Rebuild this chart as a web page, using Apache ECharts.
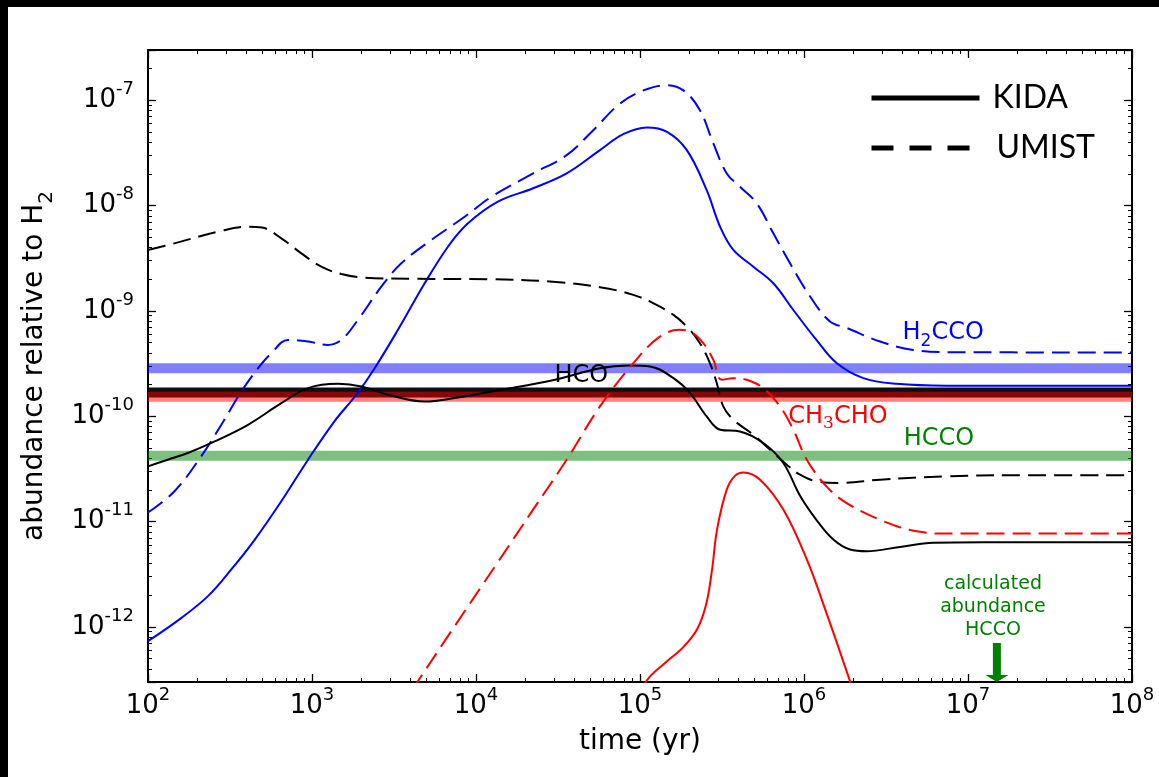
<!DOCTYPE html>
<html><head><meta charset="utf-8">
<script src="https://cdn.jsdelivr.net/npm/echarts@6/dist/echarts.min.js"></script>
<style>html,body{margin:0;padding:0;background:#fff}#c{width:1159px;height:777px}</style>
</head><body><div id="c"></div>
<script>
// ---------- data (time in yr, abundance relative to H2) ----------
const kidaHCO = [[100,3.34e-11],[132,3.87e-11],[175,4.48e-11],[255,5.77e-11],[407,8.30e-11],[650,1.33e-10],[946,1.85e-10],[1443,2.03e-10],[2000,1.92e-10],[2906,1.60e-10],[4865,1.38e-10],[7413,1.49e-10],[1.36e4,1.76e-10],[3.03e4,2.22e-10],[5.70e4,2.86e-10],[8.69e4,3.03e-10],[1.15e5,2.97e-10],[1.60e5,2.30e-10],[2.02e5,1.66e-10],[2.55e5,9.95e-11],[3.08e5,7.45e-11],[4.07e5,7.18e-11],[5.65e5,5.57e-11],[7.48e5,3.60e-11],[9.46e5,1.76e-11],[1.19e6,1.04e-11],[1.51e6,6.75e-12],[1.91e6,5.43e-12],[2.41e6,5.23e-12],[3.85e6,5.75e-12],[6.14e6,6.28e-12],[1.24e7,6.37e-12],[1e8,6.37e-12]];
const umistHCO = [[100,3.79e-9],[145,4.38e-9],[267,5.65e-9],[407,6.30e-9],[495,6.19e-9],[650,4.89e-9],[861,3.52e-9],[1140,2.63e-9],[1510,2.24e-9],[2095,2.07e-9],[4230,2.02e-9],[1.24e4,2.00e-9],[2.82e4,1.90e-9],[5.70e4,1.68e-9],[9.10e4,1.42e-9],[1.21e5,1.18e-9],[1.60e5,9.16e-10],[1.97e5,6.86e-10],[2.32e5,4.94e-10],[2.67e5,3.19e-10],[2.94e5,2.06e-10],[3.22e5,1.24e-10],[3.71e5,9.27e-11],[4.91e5,6.68e-11],[6.21e5,4.81e-11],[7.85e5,3.47e-11],[9.46e5,2.79e-11],[1.19e6,2.41e-11],[1.66e6,2.33e-11],[2.91e6,2.50e-11],[7.41e6,2.69e-11],[1.88e7,2.75e-11],[1e8,2.75e-11]];
const kidaH2CCO = [[100,7.33e-13],[160,1.22e-12],[232,1.96e-12],[322,3.51e-12],[448,6.75e-12],[650,1.56e-11],[946,3.87e-11],[1374,9.0e-11],[1862,1.60e-10],[2411,2.86e-10],[3342,6.61e-10],[4865,1.83e-9],[6745,4.07e-9],[8933,6.78e-9],[1.36e4,1.09e-8],[2.23e4,1.46e-8],[3.57e4,2.02e-8],[5.70e4,3.36e-8],[7.91e4,4.76e-8],[1.10e5,5.51e-8],[1.46e5,5.01e-8],[1.93e5,3.36e-8],[2.55e5,1.40e-8],[3.08e5,6.29e-9],[3.71e5,3.79e-9],[4.91e5,2.63e-9],[6.50e5,1.83e-9],[8.61e5,1.02e-9],[1.19e6,5.31e-10],[1.58e6,3.2e-10],[2.30e6,2.30e-10],[3.67e6,2.03e-10],[7.41e6,1.95e-10],[1e8,1.95e-10]];
const umistH2CCO = [[100,1.22e-11],[145,1.94e-11],[211,4.16e-11],[280,8.30e-11],[371,1.72e-10],[469,2.86e-10],[565,3.97e-10],[714,5.31e-10],[946,5.12e-10],[1253,4.76e-10],[1510,5.31e-10],[1906,8.22e-10],[2646,1.70e-9],[3505,2.83e-9],[5338,4.71e-9],[8526,7.83e-9],[1.24e4,1.21e-8],[2.23e4,2.02e-8],[3.57e4,3.01e-8],[5.19e4,5.20e-8],[7.55e4,9.30e-8],[1.05e5,1.24e-7],[1.46e5,1.39e-7],[1.84e5,1.24e-7],[2.32e5,8.04e-8],[2.80e5,3.89e-8],[3.38e5,2.02e-8],[4.07e5,1.51e-8],[5.15e5,1.05e-8],[6.50e5,5.46e-9],[8.22e5,2.83e-9],[1.09e6,1.37e-9],[1.44e6,7.93e-10],[1.82e6,6.9e-10],[2.91e6,5.12e-10],[4.64e6,4.26e-10],[7.41e6,4.06e-10],[1e8,4.03e-10]];
const kidaCH3CHO = [[1.0e5,2.06e-13],[1.10e5,3.1e-13],[1.41e5,4.5e-13],[1.83e5,6.4e-13],[2.23e5,9.5e-13],[2.53e5,1.63e-12],[2.75e5,3.5e-12],[2.95e5,8.4e-12],[3.38e5,2.01e-11],[3.80e5,2.73e-11],[4.27e5,2.93e-11],[5.40e5,2.50e-11],[7.48e5,1.30e-11],[1.04e6,4.37e-12],[1.37e6,1.36e-12],[1.91e6,3.04e-13],[2.07e6,2.06e-13]];
const umistCH3CHO = [[4074,2.52e-13],[4865,3.81e-13],[6745,8.18e-13],[1.36e4,4.13e-12],[2.23e4,1.30e-11],[3.57e4,3.87e-11],[5.70e4,1.24e-10],[9.10e4,3.19e-10],[1.32e5,5.70e-10],[1.75e5,6.61e-10],[2.02e5,6.37e-10],[2.43e5,4.94e-10],[2.80e5,3.43e-10],[3.15e5,2.22e-10],[3.71e5,2.30e-10],[4.47e5,2.22e-10],[5.65e5,1.85e-10],[7.14e5,1.24e-10],[8.61e5,7.45e-11],[1.04e6,3.87e-11],[1.37e6,2.16e-11],[1.82e6,1.50e-11],[3.04e6,1.01e-11],[4.86e6,8.09e-12],[7.76e6,7.69e-12],[1e8,7.69e-12]];
// observed abundances (horizontal bands)
const obsH2CCO = 2.86e-10;
const obsHCO = 1.68e-10;
const obsCH3CHO = 1.53e-10;
const obsHCCO = 4.22e-11;
const timeRange = [1e2, 1e8];
const abundRange = [3e-13, 3e-7];
const legendNames = ['KIDA', 'UMIST'];

// ---------- styling ----------
const FONT = 'DejaVu Sans';
const DASH = [18, 8];
function powLabel(v) {
  const e = Math.log10(v), r = Math.round(e);
  if (Math.abs(e - r) > 1e-6) return '';
  return '{b|10}{s|' + r + '}';
}
const tickRich = {
  b: {fontSize: 26, fontFamily: FONT, color: '#000'},
  s: {fontSize: 18, fontFamily: FONT, color: '#000', padding: [0, 0, 22, 0]}
};
function axisBase(extra) {
  return Object.assign({
    type: 'log', logBase: 10,
    axisLine: {show: true, onZero: false, lineStyle: {color: '#000', width: 2}},
    axisTick: {show: true, inside: true, length: 8, lineStyle: {color: '#000', width: 1.3}},
    minorTick: {show: true, splitNumber: 9, length: 4, lineStyle: {color: '#000', width: 1}},
    splitLine: {show: false}, minorSplitLine: {show: false}
  }, extra);
}
function band(v, color, opacity) {
  return {type: 'line', data: [[timeRange[0], v], [timeRange[1], v]], showSymbol: false, symbol: 'none',
    silent: true, lineStyle: {color: color, width: 10, opacity: opacity}, z: 1};
}
function curve(name, data, color, dashed) {
  return {type: 'line', name: name, data: data, showSymbol: false, symbol: 'none', smooth: 0.38,
    silent: true, lineStyle: {color: color, width: 2, type: dashed ? DASH : 'solid'}, z: 3};
}

const chart = echarts.init(document.getElementById('c'), null, {renderer: 'canvas'});
chart.setOption({
  animation: false,
  backgroundColor: '#ffffff',
  grid: {left: 148, top: 50, right: 27, bottom: 95},
  legend: {
    show: true, padding: 0,
    left: 869, top: 78, orient: 'vertical', itemWidth: 108, itemHeight: 14, itemGap: 10,
    selectedMode: false,
    textStyle: {fontFamily: 'Lato', fontSize: 32, color: '#000', lineHeight: 40, padding: [0, 0, 0, 8]},
    data: [
      {name: legendNames[0], itemStyle: {opacity: 0}, lineStyle: {color: '#000', width: 5, type: 'solid'}},
      {name: legendNames[1], itemStyle: {opacity: 0}, lineStyle: {color: '#000', width: 5, type: [22, 16]},
        textStyle: {padding: [0, 0, 0, 12]}}
    ]
  },
  xAxis: [
    axisBase({position: 'bottom', min: timeRange[0], max: timeRange[1],
      axisLabel: {formatter: powLabel, rich: tickRich, margin: 4},
      name: 'time (yr)', nameLocation: 'middle', nameGap: 46,
      nameTextStyle: {fontFamily: FONT, fontSize: 28, color: '#000'}}),
    axisBase({position: 'top', min: timeRange[0], max: timeRange[1], axisLabel: {show: false}})
  ],
  yAxis: [
    axisBase({position: 'left', min: abundRange[0], max: abundRange[1],
      axisLabel: {formatter: powLabel, rich: tickRich, margin: 14},
      name: 'abundance relative to H{sub|2}', nameLocation: 'middle', nameGap: 91,
      nameTextStyle: {fontFamily: FONT, fontSize: 28, color: '#000',
        rich: {sub: {fontFamily: FONT, fontSize: 20, color: '#000', padding: [24, 0, 0, 0]}}}}),
    axisBase({position: 'right', min: abundRange[0], max: abundRange[1], axisLabel: {show: false}})
  ],
  series: [
    band(obsH2CCO, '#0000ff', 0.5),
    band(obsHCO, '#000000', 0.94),
    band(obsCH3CHO, '#ff0000', 0.5),
    band(obsHCCO, '#008000', 0.5),
    curve('H2CCO KIDA', kidaH2CCO, '#0000ff', false),
    curve('H2CCO UMIST', umistH2CCO, '#0000ff', true),
    curve('HCO KIDA', kidaHCO, '#000000', false),
    curve('HCO UMIST', umistHCO, '#000000', true),
    curve('CH3CHO KIDA', kidaCH3CHO, '#ff0000', false),
    curve('CH3CHO UMIST', umistCH3CHO, '#ff0000', true),
    {type: 'line', name: legendNames[0], data: [], showSymbol: false, symbol: 'none', itemStyle: {color: '#000'},
      lineStyle: {color: '#000', width: 5, type: 'solid'}},
    {type: 'line', name: legendNames[1], data: [], showSymbol: false, symbol: 'none', itemStyle: {color: '#000'},
      lineStyle: {color: '#000', width: 5, type: [22, 16]}}
  ]
});

// ---------- annotations (placed in data coordinates) ----------
const annotations = [
  {text: '{m|H}{d|2}{m|CCO}', at: [7.06e6, 6.15e-10], color: '#0000ff'},
  {text: '{m|HCO}', at: [4.39e4, 2.42e-10], color: '#000000'},
  {text: '{m|CH}{d3|3}{m|CHO}', at: [1.61e6, 9.9e-11], color: '#ff0000'},
  {text: '{m|HCCO}', at: [6.65e6, 6.18e-11], color: '#008000'}
];
const arrowAt = [1.5e7, 3e-13];
const noteAt = [1.42e7, 1.56e-12];
const finder = {xAxisIndex: 0, yAxisIndex: 0};
const graphics = [
  {type: 'rect', shape: {x: 0, y: 0, width: 1159, height: 7}, style: {fill: '#000'}, silent: true},
  {type: 'rect', shape: {x: 0, y: 0, width: 8, height: 777}, style: {fill: '#000'}, silent: true}
];
annotations.forEach(function (a) {
  const p = chart.convertToPixel(finder, a.at);
  graphics.push({type: 'text', x: p[0], y: p[1], silent: true, z: 10,
    style: {text: a.text, align: 'center', verticalAlign: 'middle', textAlign: 'center', textVerticalAlign: 'middle',
      fill: a.color, fontFamily: FONT, fontSize: 24,
      rich: {
        m: {fontFamily: FONT, fontSize: 24, fill: a.color},
        d: {fontFamily: FONT, fontSize: 17, fill: a.color, padding: [16, 0, 0, 0]},
        d3: {fontFamily: 'DejaVu Serif', fontSize: 17, fill: a.color, padding: [14, 0, 0, 0]}
      }}});
});
(function () {
  const p = chart.convertToPixel(finder, noteAt);
  graphics.push({type: 'text', x: p[0], y: p[1], silent: true, z: 10,
    style: {text: 'calculated\nabundance\nHCCO', align: 'center', verticalAlign: 'middle', textAlign: 'center', textVerticalAlign: 'middle',
      fill: '#008000', fontFamily: FONT, fontSize: 19, lineHeight: 23}});
  const q = chart.convertToPixel(finder, arrowAt);
  graphics.push({type: 'polygon', x: q[0], y: q[1], silent: true, z: 10,
    shape: {points: [[-4, -39], [4, -39], [4, -7], [11.5, -7], [0, 0], [-11.5, -7], [-4, -7]]},
    style: {fill: '#008000'}});
})();
chart.setOption({graphic: graphics});
</script>
</body></html>
